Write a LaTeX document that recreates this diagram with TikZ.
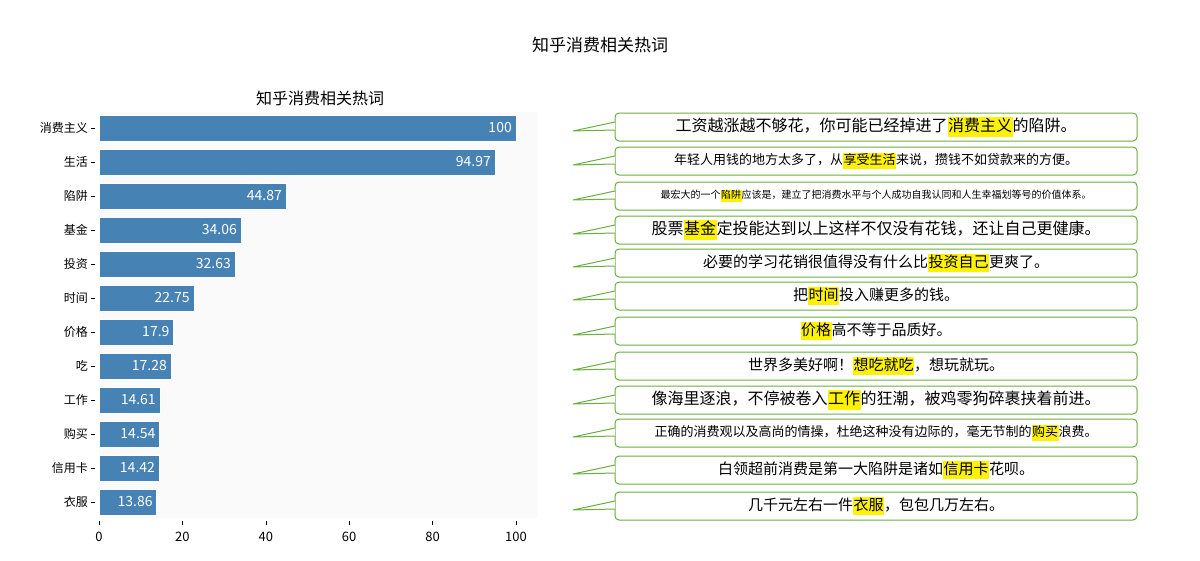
\documentclass[tikz,border=0pt]{standalone}
\usepackage{fontspec}
\setmainfont{Noto Sans CJK SC}
\usetikzlibrary{calc}
\definecolor{barc}{HTML}{4682B4}
\definecolor{callg}{HTML}{6AAF3D}
\newcommand{\hl}[1]{{\setlength{\fboxsep}{0.5pt}\colorbox{yellow}{\strut #1}}}
\tikzset{
  bar/.style={fill=barc,draw=white,line width=0.6pt},
  barval/.style={text=white,anchor=east,font=\fontsize{14}{14}\selectfont,inner sep=4pt},
  ylab/.style={anchor=east,font=\fontsize{12}{12}\selectfont,inner sep=0pt},
  callbox/.style={draw=callg,line width=1pt,rounded corners=4pt,fill=white,minimum width=522pt,minimum height=28pt,inner sep=0pt},
  tail/.style={draw=callg,line width=1pt,fill=white}
}
\begin{document}
\begin{tikzpicture}[x=1pt,y=-1pt]
\useasboundingbox (0,0) rectangle (1200,560);
\node (title) at (600,45) {\fontsize{17}{17}\selectfont 知乎消费相关热词};
\node (sub) at (320,98) {\fontsize{16}{16}\selectfont 知乎消费相关热词};
\fill[gray!4] (99,112) rectangle (538,518);
\foreach \v/\t [count=\i] in {100/消费主义,94.97/生活,44.87/陷阱,34.06/基金,32.63/投资,22.75/时间,17.9/价格,17.28/吃,14.61/工作,14.54/购买,14.42/信用卡,13.86/衣服}{
  \pgfmathsetmacro{\yc}{128+34*(\i-1)}
  \pgfmathsetmacro{\xe}{99+4.17*\v}
  \draw[bar] (99,\yc-13) rectangle (\xe,\yc+13);
  \node[barval] (v\i) at (\xe,\yc) {\v};
  \draw (91,\yc) -- (95,\yc);
  \node[ylab] (l\i) at (88,\yc) {\t};
}
\foreach \k in {0,20,40,60,80,100}{
  \draw (99+4.17*\k,521) -- (99+4.17*\k,525);
  \node[font=\fontsize{13}{13}\selectfont] at (99+4.17*\k,537) {\k};
}
\foreach \yy/\sz/\txt [count=\i] in {
 127/16/{工资越涨越不够花，你可能已经掉进了\hl{消费主义}的陷阱。},
 161/13/{年轻人用钱的地方太多了，从\hl{享受生活}来说，攒钱不如贷款来的方便。},
 196/10/{最宏大的一个\hl{陷阱}应该是，建立了把消费水平与个人成功自我认同和人生幸福划等号的价值体系。},
 230/16/{股票\hl{基金}定投能达到以上这样不仅没有花钱，还让自己更健康。},
 263/15/{必要的学习花销很值得没有什么比\hl{投资自己}更爽了。},
 296/15/{把\hl{时间}投入赚更多的钱。},
 331/15/{\hl{价格}高不等于品质好。},
 366/15/{世界多美好啊！\hl{想吃就吃}，想玩就玩。},
 400/16/{像海里逐浪，不停被卷入\hl{工作}的狂潮，被鸡零狗碎裹挟着前进。},
 433/13/{正确的消费观以及高尚的情操，杜绝这种没有边际的，毫无节制的\hl{购买}浪费。},
 470/15/{白领超前消费是第一大陷阱是诸如\hl{信用卡}花呗。},
 506/15/{几千元左右一件\hl{衣服}，包包几万左右。}}{
  \node[callbox] (c\i) at (876,\yy) {};
  \coordinate (p\i) at (573,\yy+4);
  \draw[tail] ($(c\i.west)+(0.5,-5)$) -- (p\i) -- ($(c\i.west)+(0.5,3)$);
  \node[font=\fontsize{\sz}{\sz}\selectfont,inner sep=0pt] (t\i) at (c\i) {\txt};
}
\end{tikzpicture}
\end{document}
